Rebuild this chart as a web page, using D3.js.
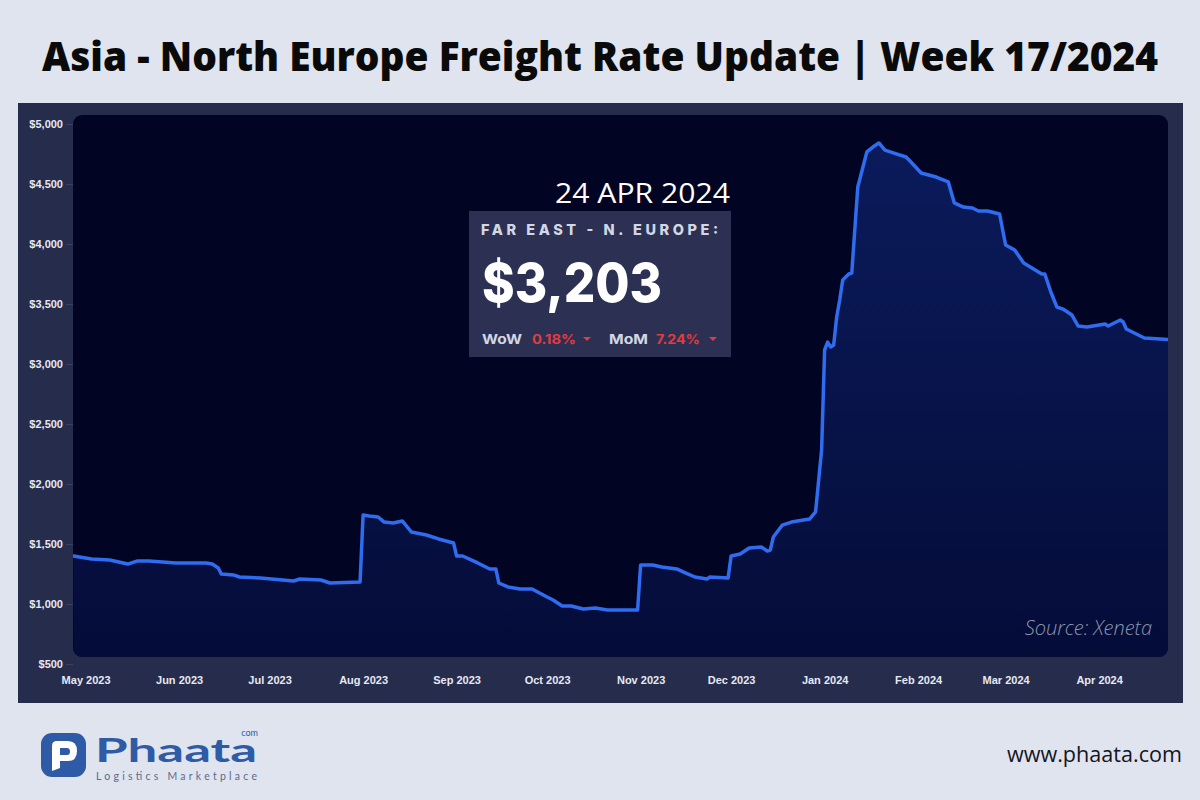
<!DOCTYPE html>
<html><head><meta charset="utf-8">
<script src="https://cdn.jsdelivr.net/npm/d3@7"></script>
<style>html,body{margin:0;padding:0;background:#dfe4ee;} svg{display:block}</style>
</head><body>
<svg id="c" width="1200" height="800"></svg>
<script>
// ---------- DATA ----------
const dates = [
 "2023-04-27","2023-05-03","2023-05-09","2023-05-15","2023-05-18","2023-05-22","2023-05-31",
 "2023-06-10","2023-06-12","2023-06-14","2023-06-15","2023-06-19","2023-06-21","2023-06-28",
 "2023-07-09","2023-07-11","2023-07-18","2023-07-21","2023-07-31",
 "2023-08-01","2023-08-03","2023-08-06","2023-08-08","2023-08-11","2023-08-14","2023-08-17","2023-08-22","2023-08-26","2023-08-31",
 "2023-09-01","2023-09-03","2023-09-08","2023-09-12","2023-09-14","2023-09-15","2023-09-18","2023-09-22","2023-09-26",
 "2023-10-01","2023-10-03","2023-10-06","2023-10-09","2023-10-13","2023-10-17","2023-10-21","2023-10-31",
 "2023-11-01","2023-11-05","2023-11-08","2023-11-13","2023-11-16","2023-11-19","2023-11-23","2023-11-24","2023-11-30",
 "2023-12-01","2023-12-04","2023-12-07","2023-12-11","2023-12-13","2023-12-14","2023-12-15","2023-12-18","2023-12-21","2023-12-27","2023-12-29","2023-12-31",
 "2024-01-01","2024-01-02","2024-01-03","2024-01-04","2024-01-05","2024-01-06","2024-01-07","2024-01-09","2024-01-10","2024-01-12","2024-01-15","2024-01-17","2024-01-19","2024-01-21","2024-01-24","2024-01-28","2024-01-29",
 "2024-02-02","2024-02-07","2024-02-11","2024-02-13","2024-02-16","2024-02-19","2024-02-21","2024-02-24","2024-02-28",
 "2024-03-01","2024-03-04","2024-03-07","2024-03-13","2024-03-14","2024-03-16","2024-03-18","2024-03-20","2024-03-23","2024-03-25","2024-03-28",
 "2024-04-03","2024-04-04","2024-04-08","2024-04-09","2024-04-10","2024-04-12","2024-04-16","2024-04-24"
];
const rates = [
 1400,1375,1367,1333,1358,1358,1342,
 1342,1333,1300,1250,1242,1225,1217,
 1192,1208,1200,1175,1183,
 1742,1733,1725,1683,1675,1692,1600,1575,1542,1508,
 1400,1400,1342,1292,1292,1175,1142,1125,1125,
 1058,1033,983,983,958,967,950,950,
 1325,1325,1308,1292,1258,1225,1208,1225,1217,
 1400,1417,1467,1475,1442,1450,1558,1658,1683,1708,1767,2283,
 3117,3183,3142,3158,3392,3533,3700,3750,3758,4475,4767,4808,4842,4783,4758,4725,4700,
 4592,4558,4517,4342,4308,4300,4275,4275,4250,
 3992,3950,3842,3750,3750,3600,3475,3458,3408,3317,3308,
 3333,3317,3367,3350,3292,3267,3217,3203
];
const yTickValues = [500,1000,1500,2000,2500,3000,3500,4000,4500,5000];
const xTickDates = ["2023-05-01","2023-06-01","2023-07-01","2023-08-01","2023-09-01","2023-10-01",
 "2023-11-01","2023-12-01","2024-01-01","2024-02-01","2024-03-01","2024-04-01"];
const titleText = "Asia - North Europe Freight Rate Update | Week 17/2024";
const routeLabel = "FAR EAST - N. EUROPE:";
const dateLabel = "24 APR 2024";
const currentRate = 3203;
const wowChange = "0.18%";
const momChange = "7.24%";

// ---------- DRAW ----------
const parse = d3.utcParse("%Y-%m-%d");
const data = dates.map((d,i)=>({date:parse(d), v:rates[i]}));
const svg = d3.select("#c");

const defs = svg.append("defs");
const grad = defs.append("linearGradient").attr("id","af").attr("gradientUnits","userSpaceOnUse")
  .attr("x1",0).attr("y1",124).attr("x2",0).attr("y2",660);
grad.append("stop").attr("offset","0%").attr("stop-color","#0b1b5c");
grad.append("stop").attr("offset","100%").attr("stop-color","#040c38");
defs.append("clipPath").attr("id","clip").append("rect")
  .attr("x",73).attr("y",115).attr("width",1095).attr("height",542).attr("rx",9);

// title (condensed look: narrow text stretched vertically)
svg.append("g").attr("transform","translate(600,71) scale(1,1.2)")
  .append("text").attr("x",0).attr("y",0).attr("text-anchor","middle")
  .attr("font-family","'Open Sans', sans-serif").attr("font-weight",800).attr("font-size",34)
  .attr("fill","#0a0a0a").attr("textLength",1116).attr("lengthAdjust","spacingAndGlyphs")
  .text(titleText);

// outer panel
svg.append("rect").attr("x",18).attr("y",103).attr("width",1165).attr("height",600).attr("fill","#262c4c");
// inner plot
svg.append("rect").attr("x",73).attr("y",115).attr("width",1095).attr("height",542).attr("rx",9).attr("fill","#020424");

const x = d3.scaleUtc().domain([parse("2023-04-27"), parse("2024-04-24")]).range([73.5,1168.5]);
const y = d3.scaleLinear().domain([500,5000]).range([664,124]);

// y axis
const yAxis = svg.append("g").attr("transform","translate(73,0)")
  .call(d3.axisLeft(y).tickValues(yTickValues).tickSize(7).tickPadding(3).tickFormat(d=>"$"+d3.format(",")(d)));
yAxis.select(".domain").remove();
yAxis.selectAll("line").attr("stroke","#3a4166");
yAxis.selectAll("text").attr("fill","#e6e9f2").attr("font-family","'Liberation Sans', Arial, sans-serif")
  .attr("font-weight","bold").attr("font-size",11);

// x axis
const xAxis = svg.append("g").attr("transform","translate(0,672)")
  .call(d3.axisBottom(x).tickValues(xTickDates.map(parse)).tickSize(0).tickPadding(4).tickFormat(d3.utcFormat("%b %Y")));
xAxis.select(".domain").remove();
xAxis.selectAll("text").attr("fill","#e6e9f2").attr("font-family","'Liberation Sans', Arial, sans-serif")
  .attr("font-weight","bold").attr("font-size",11);

// area + line
const g = svg.append("g").attr("clip-path","url(#clip)");
g.append("path").datum(data).attr("fill","url(#af)")
  .attr("d", d3.area().x(d=>x(d.date)).y0(664).y1(d=>y(d.v)));
g.append("path").datum(data).attr("fill","none").attr("stroke","#2f6cf0").attr("stroke-width",3.5)
  .attr("stroke-linejoin","round").attr("stroke-linecap","round")
  .attr("d", d3.line().x(d=>x(d.date)).y(d=>y(d.v)));

// source
svg.append("text").attr("x",1152).attr("y",635).attr("text-anchor","end")
  .attr("font-family","'Open Sans', sans-serif").attr("font-style","italic").attr("font-weight",300)
  .attr("font-size",20).attr("fill","#8e94ad").text("Source: Xeneta");

// info box
svg.append("text").attr("x",730).attr("y",203).attr("text-anchor","end")
  .attr("font-family","'Open Sans', sans-serif").attr("font-size",27).attr("fill","#ffffff")
  .attr("textLength",175).attr("lengthAdjust","spacingAndGlyphs").text(dateLabel);
svg.append("rect").attr("x",469).attr("y",211).attr("width",262).attr("height",146).attr("fill","#2c3153");
svg.append("text").attr("x",481).attr("y",235)
  .attr("font-family","Inter, 'Open Sans', sans-serif").attr("font-weight",800).attr("font-size",14.5)
  .attr("fill","#d3d7e4").attr("textLength",237).attr("lengthAdjust","spacing").text(routeLabel);
svg.append("text").attr("x",482).attr("y",302)
  .attr("font-family","Inter, 'Open Sans', sans-serif").attr("font-weight",800).attr("font-size",54)
  .attr("fill","#ffffff").attr("textLength",180).attr("lengthAdjust","spacingAndGlyphs")
  .text("$"+d3.format(",")(currentRate));
const small = [
  {t:"WoW", x:482, w:40, c:"#d3d7e4"},
  {t:wowChange, x:532, w:44, c:"#e23b40"},
  {t:"MoM", x:609, w:39, c:"#d3d7e4"},
  {t:momChange, x:656, w:44, c:"#e23b40"}
];
small.forEach(s=>{
  svg.append("text").attr("x",s.x).attr("y",344)
    .attr("font-family","Inter, 'Open Sans', sans-serif").attr("font-weight",700).attr("font-size",13)
    .attr("fill",s.c).attr("textLength",s.w).attr("lengthAdjust","spacingAndGlyphs").text(s.t);
});
[587,713].forEach(cx=>{
  svg.append("path").attr("d",`M${cx-4},337 L${cx+4},337 L${cx},341 Z`).attr("fill","#e23b40");
});

// logo
svg.append("rect").attr("x",41).attr("y",733).attr("width",45).attr("height",44).attr("rx",11).attr("fill","#2f5ba6");
svg.append("path").attr("d","M52,771 L52,746 Q52,741 57,741 L68,741 Q77,741 77,751 Q77,761 68,761 L60,761 L60,768 Z M60,748 L60,755 L67,755 Q70,755 70,751.5 Q70,748 67,748 Z")
  .attr("fill","#ffffff").attr("fill-rule","evenodd");
svg.append("text").attr("x",95).attr("y",762)
  .attr("font-family","Lato, sans-serif").attr("font-weight",700).attr("font-size",33)
  .attr("fill","#2f5ba6").attr("textLength",162).attr("lengthAdjust","spacingAndGlyphs").text("Phaata");
svg.append("text").attr("x",258).attr("y",736).attr("text-anchor","end")
  .attr("font-family","Lato, sans-serif").attr("font-size",9).attr("fill","#2f5ba6").text("com");
svg.append("text").attr("x",96).attr("y",780)
  .attr("font-family","Lato, sans-serif").attr("font-size",10.5).attr("fill","#5d6b8c")
  .attr("textLength",161).attr("lengthAdjust","spacing").text("Logistics Marketplace");

svg.append("text").attr("x",1182).attr("y",762).attr("text-anchor","end")
  .attr("font-family","'Open Sans', sans-serif").attr("font-size",22).attr("fill","#15151f")
  .attr("textLength",175).attr("lengthAdjust","spacingAndGlyphs").text("www.phaata.com");
</script>
</body></html>
